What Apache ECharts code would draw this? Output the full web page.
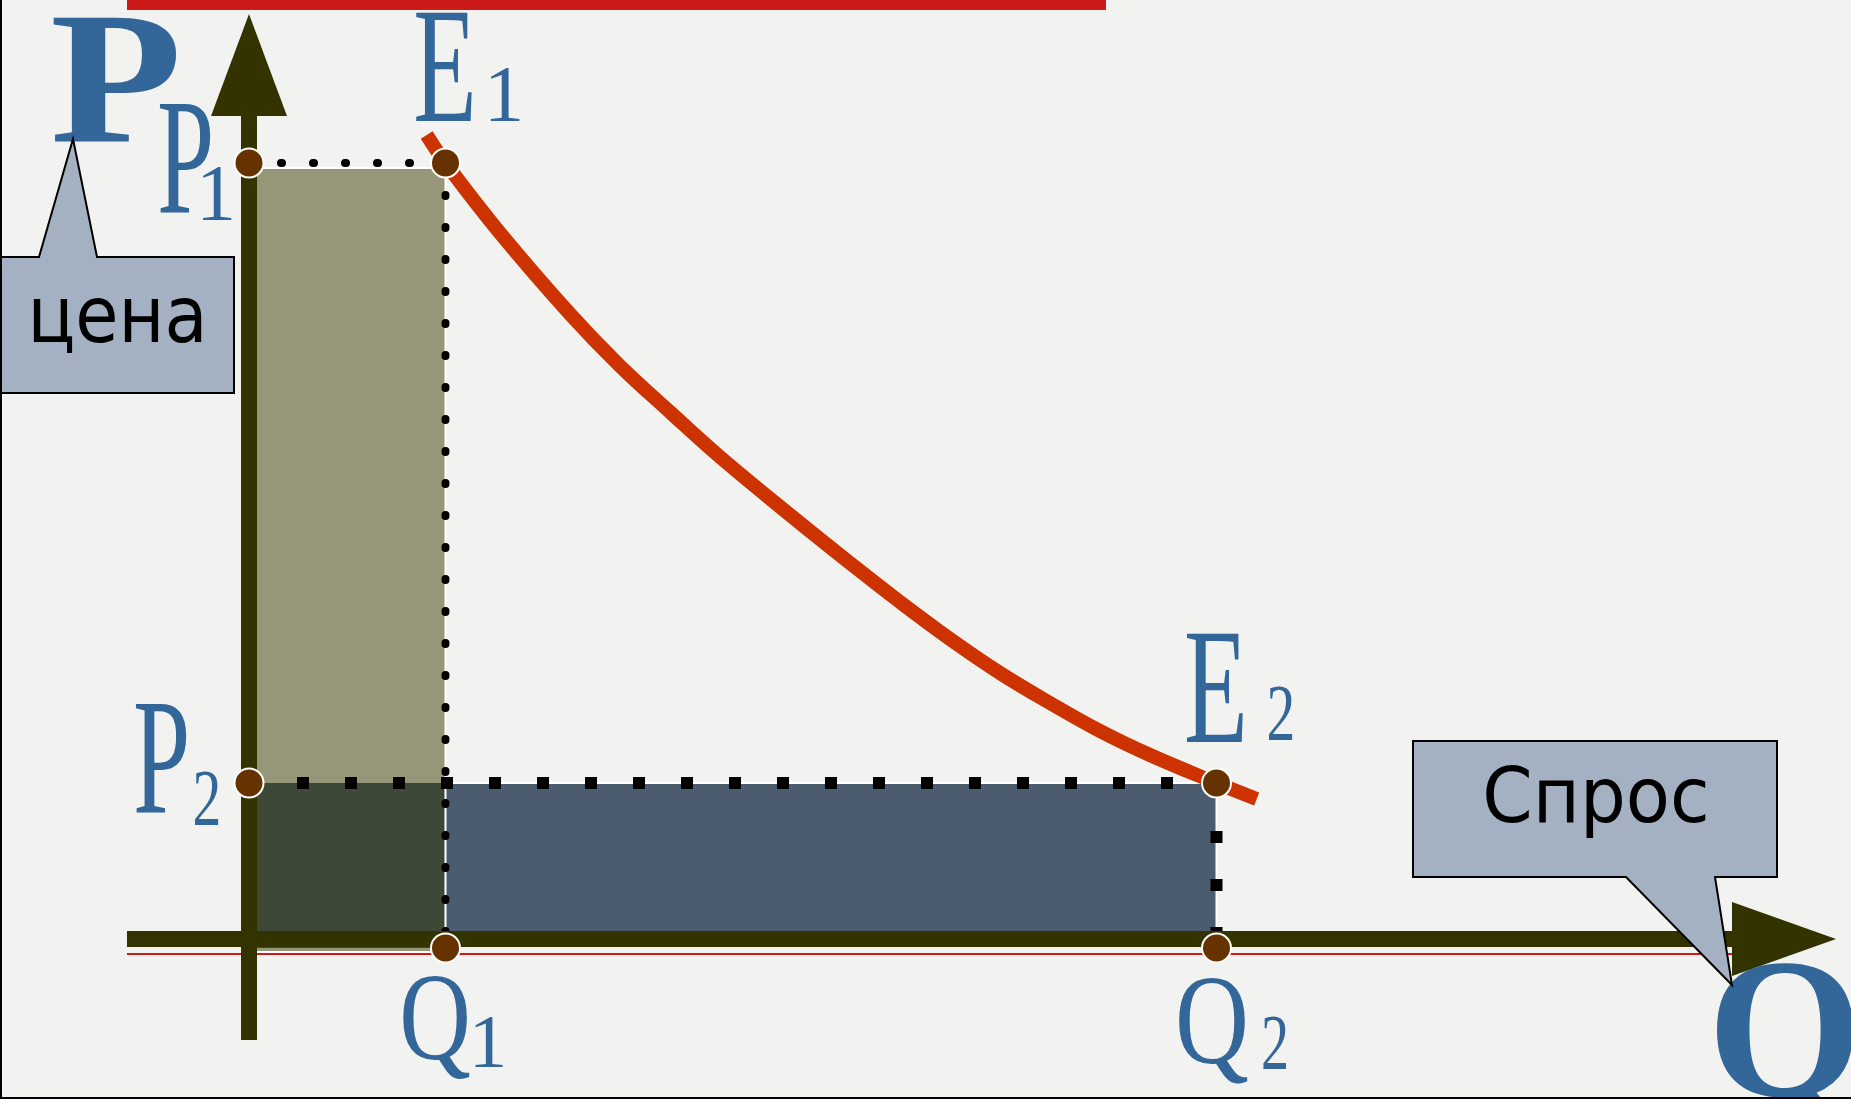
<!DOCTYPE html>
<html lang="ru">
<head>
  <meta charset="utf-8">
  <title>Спрос</title>
  <script src="https://cdn.jsdelivr.net/npm/echarts@6/dist/echarts.min.js"></script>
  <style>
    body { margin: 0; background: #f2f2f0; }
    #wrap { position: relative; width: 1851px; height: 1099px; }
    #main { width: 1851px; height: 1099px; }
    #frame { position: absolute; left: 0; top: 0; width: 1849px; height: 1097px;
             border-left: 2px solid #000; border-bottom: 2px solid #000; pointer-events: none; }
  </style>
</head>
<body>
<div id="wrap">
  <div id="main"></div>
  <div id="frame"></div>
</div>
<script type="text/javascript">
    // equilibrium points
    var Q1 = 19.65, Q2 = 96.75, P1 = 77.6, P2 = 15.6;

    // demand curve
    var demandQ = [17.77, 19.65, 25.1, 32.1, 37.1, 42.1, 47.1, 55.1, 60.1, 65.1, 70.1, 75.1, 80.1, 85.1, 90.1, 96.75, 100.77];
    var demandP = [80.4, 77.6, 70.6, 62.5, 57.3, 52.7, 48.2, 41.6, 37.6, 33.7, 30.0, 26.6, 23.6, 20.8, 18.4, 15.6, 14.0];

    // marked points: P1, E1, P2, E2, Q1, Q2
    var pointQ = [0, Q1, 0, Q2, Q1, Q2];
    var pointP = [P1, P1, P2, P2, -0.9, -0.9];

    // axes extents (line start, arrow base, arrow tip)
    var qAxis = [-12.2, 148.3, 158.7];
    var pAxis = [-10.1, 82.3, 92.5];

    // callouts
    var cenaQ = [-25, -21.0, -17.6, -15.2, -1.5, -1.5, -25];
    var cenaP = [68.2, 68.2, 80.0, 68.2, 68.2, 54.6, 54.6];
    var sprosQ = [116.4, 152.8, 152.8, 146.6, 148.3, 137.7, 116.4];
    var sprosP = [19.8, 19.8, 6.2, 6.2, -4.6, 6.2, 6.2];

    // labels
    var labelText = ['P', 'P', '1', 'E', '1', 'P', '2', 'E', '2', 'Q', '1', 'Q', '2', 'Q', 'цена', 'Спрос'];
    var labelQ = [-13.3, -6.35, -3.3, 19.6, 25.5, -8.75, -4.2, 96.7, 103.2, 18.6, 23.9, 96.3, 102.6, 153.6, -13.15, 134.7];
    var labelP = [84.6, 77.0, 74.0, 86.1, 83.9, 17.0, 13.5, 24.1, 22.0, -8.7, -10.8, -9.0, -10.9, -10.5, 61.7, 13.7];

    var serif = 'Liberation Serif';
    var sans = 'DejaVu Sans';
    // size, scaleX, weight, family, colour for every label
    var labelLook = [
        [188, 1.15, 'bold', serif, '#336699'],
        [166, 0.62, 'normal', serif, '#336699'],
        [80, 1.0, 'normal', serif, '#336699'],
        [165, 0.63, 'normal', serif, '#336699'],
        [81, 1.0, 'normal', serif, '#336699'],
        [166, 0.62, 'normal', serif, '#336699'],
        [80, 0.72, 'normal', serif, '#336699'],
        [166, 0.63, 'normal', serif, '#336699'],
        [80, 0.72, 'normal', serif, '#336699'],
        [124, 0.8, 'normal', serif, '#336699'],
        [77, 1.0, 'normal', serif, '#336699'],
        [128, 0.8, 'normal', serif, '#336699'],
        [78, 0.72, 'normal', serif, '#336699'],
        [200, 1.0, 'bold', serif, '#336699'],
        [78, 0.9, 'normal', sans, '#000'],
        [76, 0.95, 'normal', sans, '#000']
    ];

    var myChart = echarts.init(document.getElementById('main'));

    function zip(a, b) {
        return a.map(function (v, i) { return [v, b[i]]; });
    }

    function shape(qs, ps, style, z, kind) {
        return {
            type: 'custom', silent: true, z: z,
            data: [[0, 0]],
            renderItem: function (params, api) {
                var pts = qs.map(function (q, i) { return api.coord([q, ps[i]]); });
                if (kind === 'curve') {
                    return { type: 'polyline', shape: { points: pts, smooth: 0.4 }, style: style };
                }
                return { type: 'polygon', shape: { points: pts }, style: style };
            }
        };
    }

    function rect(q0, q1, p0, p1, fill, stroke) {
        return shape([q0, q1, q1, q0], [p0, p0, p1, p1], { fill: fill, stroke: stroke, lineWidth: stroke ? 2 : 0 }, 1);
    }

    function seg(points, style, z) {
        return { type: 'line', silent: true, symbol: 'none', z: z, data: points, lineStyle: style };
    }

    function textSeries(from, to, z) {
        var idx = [];
        for (var i = from; i < to; i++) idx.push(i);
        return {
            type: 'custom', silent: true, z: z,
            data: idx.map(function (i) { return [labelQ[i], labelP[i], i]; }),
            renderItem: function (params, api) {
                var i = api.value(2);
                var pt = api.coord([api.value(0), api.value(1)]);
                var look = labelLook[i];
                return {
                    type: 'text', x: pt[0], y: pt[1], scaleX: look[1],
                    style: {
                        text: labelText[i], fontSize: look[0], fontWeight: look[2], fontFamily: look[3],
                        fill: look[4], align: 'center', verticalAlign: 'middle'
                    }
                };
            }
        };
    }

    var axisColor = '#333300';

    option = {
        animation: false,
        backgroundColor: '#f2f2f0',
        grid: { left: 0, right: 0, top: 0, bottom: 0 },
        xAxis: { type: 'value', min: -24.9, max: 160.2, show: false },
        yAxis: { type: 'value', min: -16, max: 93.9, show: false },
        series: [
            rect(0, Q1, -1.3, P1 - 0.5, '#969679', '#ffffff'),
            rect(0, Q1, -0.9, P2, '#3d4837', null),
            rect(Q1, Q2, 0, P2, '#4b5c6f', '#ffffff'),
            seg([[qAxis[0], -1.5], [qAxis[1], -1.5]], { color: '#cc1a1a', width: 2 }, 1),
            seg([[qAxis[0], 93.4], [85.7, 93.4]], { color: '#cc1a1a', width: 10 }, 1),
            // dotted guides
            seg([[0, P1], [Q1, P1]], { color: '#000', width: 8, type: [1, 31], cap: 'round' }, 2),
            seg([[Q1, P1], [Q1, 0]], { color: '#000', width: 8, type: [1, 31], cap: 'round' }, 2),
            seg([[0, P2], [Q2, P2]], { color: '#000', width: 12, type: [12, 36], cap: 'butt' }, 2),
            seg([[Q2, P2], [Q2, 0]], { color: '#000', width: 12, type: [12, 36], cap: 'butt' }, 2),
            // axes
            seg([[qAxis[0], 0], [qAxis[1], 0]], { color: axisColor, width: 16 }, 3),
            seg([[0, pAxis[0]], [0, pAxis[1]]], { color: axisColor, width: 16 }, 3),
            shape([0, -3.8, 3.8], [pAxis[2], pAxis[1], pAxis[1]], { fill: axisColor }, 3),
            shape([qAxis[2], qAxis[1], qAxis[1]], [0, 3.7, -3.7], { fill: axisColor }, 3),
            // demand
            shape(demandQ, demandP, { fill: null, stroke: '#cc3300', lineWidth: 14, lineCap: 'butt', lineJoin: 'round' }, 4, 'curve'),
            textSeries(0, 14, 5),
            {
                type: 'scatter', silent: true, symbolSize: 29, z: 6,
                data: zip(pointQ, pointP),
                itemStyle: { color: '#663300', borderColor: '#ffffff', borderWidth: 2, opacity: 1 }
            },
            shape(cenaQ, cenaP, { fill: '#a3b1c2', stroke: '#000', lineWidth: 2 }, 7),
            shape(sprosQ, sprosP, { fill: '#a3b1c2', stroke: '#000', lineWidth: 2 }, 7),
            textSeries(14, 16, 8)
        ]
    };

    myChart.setOption(option);
</script>
</body>
</html>
